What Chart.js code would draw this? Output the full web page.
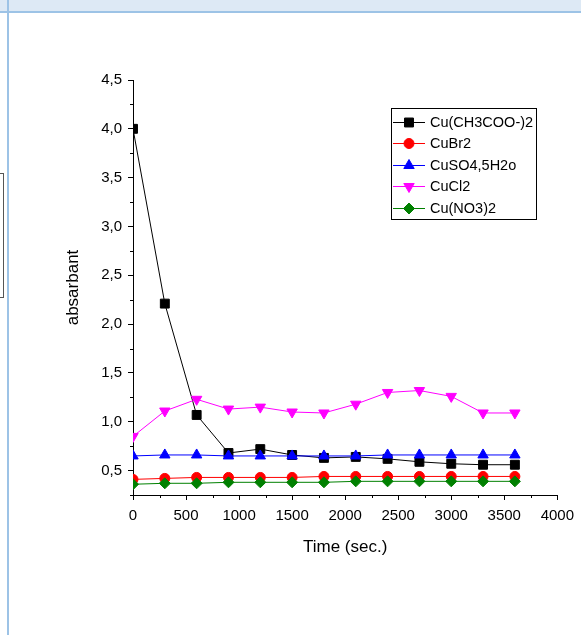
<!DOCTYPE html>
<html>
<head>
<meta charset="utf-8">
<script src="https://cdn.jsdelivr.net/npm/chart.js@4/dist/chart.umd.min.js"></script>
<style>
  body { margin: 0; background: #fff; width: 581px; height: 635px; overflow: hidden; position: relative; }
  #band { position: absolute; left: 0; top: 0; width: 581px; height: 11px; background: #dde9f5; border-bottom: 2px solid #9dc3e6; }
  #vline { position: absolute; left: 7px; top: 0; width: 2px; height: 635px; background: #9dc3e6; }
  #sidebox { position: absolute; left: -10px; top: 173px; width: 12px; height: 123px; border: 1px solid #555; }
  #plot { position: absolute; left: 0; top: 0; }
</style>
</head>
<body>
<div id="band"></div>
<div id="vline"></div>
<div id="sidebox"></div>
<canvas id="plot" width="581" height="635"></canvas>
<script>
// sampling times (sec.)
var times = [0, 300, 600, 900, 1200, 1500, 1800, 2100, 2400, 2700, 3000, 3300, 3600];

// absorbance of each salt
var cuAcetate = [4.00, 2.21, 1.07, 0.68, 0.72, 0.66, 0.63, 0.64, 0.62, 0.59, 0.57, 0.56, 0.56];
var cuBr2     = [0.41, 0.42, 0.43, 0.43, 0.43, 0.43, 0.44, 0.44, 0.44, 0.44, 0.44, 0.44, 0.44];
var cuSO4     = [0.65, 0.66, 0.66, 0.65, 0.65, 0.65, 0.65, 0.65, 0.66, 0.66, 0.66, 0.66, 0.66];
var cuCl2     = [0.85, 1.11, 1.23, 1.13, 1.15, 1.10, 1.09, 1.18, 1.30, 1.32, 1.26, 1.09, 1.09];
var cuNO3     = [0.36, 0.37, 0.37, 0.38, 0.38, 0.38, 0.38, 0.39, 0.39, 0.39, 0.39, 0.39, 0.39];

var seriesNames = ['Cu(CH3COO-)2', 'CuBr2', 'CuSO4,5H2o', 'CuCl2', 'Cu(NO3)2'];

// axis ranges and tick steps
var xMin = 0, xMax = 4000, xStep = 250, xLabelEvery = 500;
var yMin = 0.25, yMax = 4.5, yStep = 0.25, yLabelEvery = 0.5;

function pairs(ys) {
    return ys.map(function(y, i) { return { x: times[i], y: y }; });
}

function isMajor(v, every) {
    return Math.abs(v / every - Math.round(v / every)) < 1e-6;
}

var styles = [
    { color: '#000000', pointStyle: 'rect', radius: 6.3, rotation: 0 },
    { color: '#ff0000', pointStyle: 'circle', radius: 5, rotation: 0 },
    { color: '#0000ff', pointStyle: 'triangle', radius: 6, rotation: 0 },
    { color: '#ff00ff', pointStyle: 'triangle', radius: 6, rotation: 180 },
    { color: '#008000', pointStyle: 'rectRot', radius: 5.5, rotation: 0 }
];

var allSeries = [cuAcetate, cuBr2, cuSO4, cuCl2, cuNO3];

var datasets = allSeries.map(function(ys, i) {
    var s = styles[i];
    return {
        label: seriesNames[i],
        data: pairs(ys),
        borderColor: s.color,
        backgroundColor: s.color,
        borderWidth: 1,
        pointStyle: s.pointStyle,
        pointRadius: s.radius,
        pointRotation: s.rotation,
        pointBorderWidth: 1,
        pointBackgroundColor: s.color,
        pointBorderColor: s.color,
        tension: 0,
        order: allSeries.length - i   // later series on top
    };
});

// short minor ticks between the labelled ones
var minorTicks = {
    id: 'minorTicks',
    afterDraw: function(chart) {
        var ctx = chart.ctx;
        var xs = chart.scales.x, ys = chart.scales.y;
        ctx.save();
        ctx.strokeStyle = '#000';
        ctx.lineWidth = 1;
        ctx.beginPath();
        xs.ticks.forEach(function(t) {
            if (isMajor(t.value, xLabelEvery)) return;
            var px = Math.round(xs.getPixelForValue(t.value)) + 0.5;
            ctx.moveTo(px, xs.top);
            ctx.lineTo(px, xs.top + 3);
        });
        ys.ticks.forEach(function(t) {
            if (isMajor(t.value, yLabelEvery)) return;
            var py = Math.round(ys.getPixelForValue(t.value)) + 0.5;
            ctx.moveTo(ys.right, py);
            ctx.lineTo(ys.right - 3, py);
        });
        ctx.stroke();
        ctx.restore();
    }
};

// boxed legend with a line through each marker
var lineLegend = {
    id: 'lineLegend',
    afterDatasetsDraw: function(chart) {
        var ctx = chart.ctx;
        var left = 391, top = 108, w = 145, h = 111;
        var rowY = 121.7, rowGap = 21.5;
        ctx.save();
        ctx.strokeStyle = '#000';
        ctx.lineWidth = 1;
        ctx.strokeRect(left + 0.5, top + 0.5, w, h);
        ctx.font = '14.5px Arial, "Liberation Sans", sans-serif';
        ctx.textBaseline = 'middle';
        ctx.textAlign = 'left';
        chart.data.datasets.forEach(function(ds, i) {
            var y = Math.round(rowY + i * rowGap) + 0.5;
            var s = styles[i];
            ctx.strokeStyle = s.color;
            ctx.fillStyle = s.color;
            ctx.lineWidth = 1;
            ctx.beginPath();
            ctx.moveTo(left + 2, y);
            ctx.lineTo(left + 34, y);
            ctx.stroke();
            Chart.helpers.drawPoint(ctx, {
                pointStyle: s.pointStyle,
                radius: s.radius,
                rotation: s.rotation,
                borderWidth: 1
            }, left + 18, y);
            ctx.fillStyle = '#000';
            ctx.fillText(ds.label, left + 39, y);
        });
        ctx.restore();
    }
};

var tickFont = { family: 'Arial, "Liberation Sans", sans-serif', size: 15 };
var titleFont = { family: 'Arial, "Liberation Sans", sans-serif', size: 17 };

new Chart(document.getElementById('plot'), {
    type: 'line',
    data: { datasets: datasets },
    options: {
        responsive: false,
        animation: false,
        events: [],
        layout: { padding: { top: 80, right: 20, left: 0, bottom: 0 } },
        plugins: {
            legend: { display: false },
            tooltip: { enabled: false }
        },
        scales: {
            x: {
                type: 'linear',
                min: xMin,
                max: xMax,
                afterFit: function(s) { s.height = 140; },
                border: { display: true, color: '#000', width: 1 },
                grid: {
                    drawOnChartArea: false,
                    drawTicks: true,
                    tickLength: 5,
                    tickWidth: 1,
                    tickColor: function(c) {
                        return c.tick && isMajor(c.tick.value, xLabelEvery) ? '#000' : 'rgba(0,0,0,0)';
                    }
                },
                ticks: {
                    stepSize: xStep,
                    autoSkip: false,
                    maxRotation: 0,
                    padding: 7,
                    color: '#000',
                    font: tickFont,
                    callback: function(v) { return isMajor(v, xLabelEvery) ? String(v) : ''; }
                },
                title: {
                    display: true,
                    text: 'Time (sec.)',
                    color: '#000',
                    font: titleFont,
                    padding: { top: 0, bottom: 77 }
                }
            },
            y: {
                type: 'linear',
                min: yMin,
                max: yMax,
                afterFit: function(s) { s.width = 133; },
                border: { display: true, color: '#000', width: 1 },
                grid: {
                    drawOnChartArea: false,
                    drawTicks: true,
                    tickLength: 5,
                    tickWidth: 1,
                    tickColor: function(c) {
                        return c.tick && isMajor(c.tick.value, yLabelEvery) ? '#000' : 'rgba(0,0,0,0)';
                    }
                },
                ticks: {
                    stepSize: yStep,
                    autoSkip: false,
                    padding: 6,
                    color: '#000',
                    font: tickFont,
                    callback: function(v) {
                        return isMajor(v, yLabelEvery) ? v.toFixed(1).replace('.', ',') : '';
                    }
                },
                title: {
                    display: true,
                    text: 'absarbant',
                    color: '#000',
                    font: titleFont,
                    padding: { top: 63, bottom: 0 }
                }
            }
        }
    },
    plugins: [minorTicks, lineLegend]
});
</script>
</body>
</html>
